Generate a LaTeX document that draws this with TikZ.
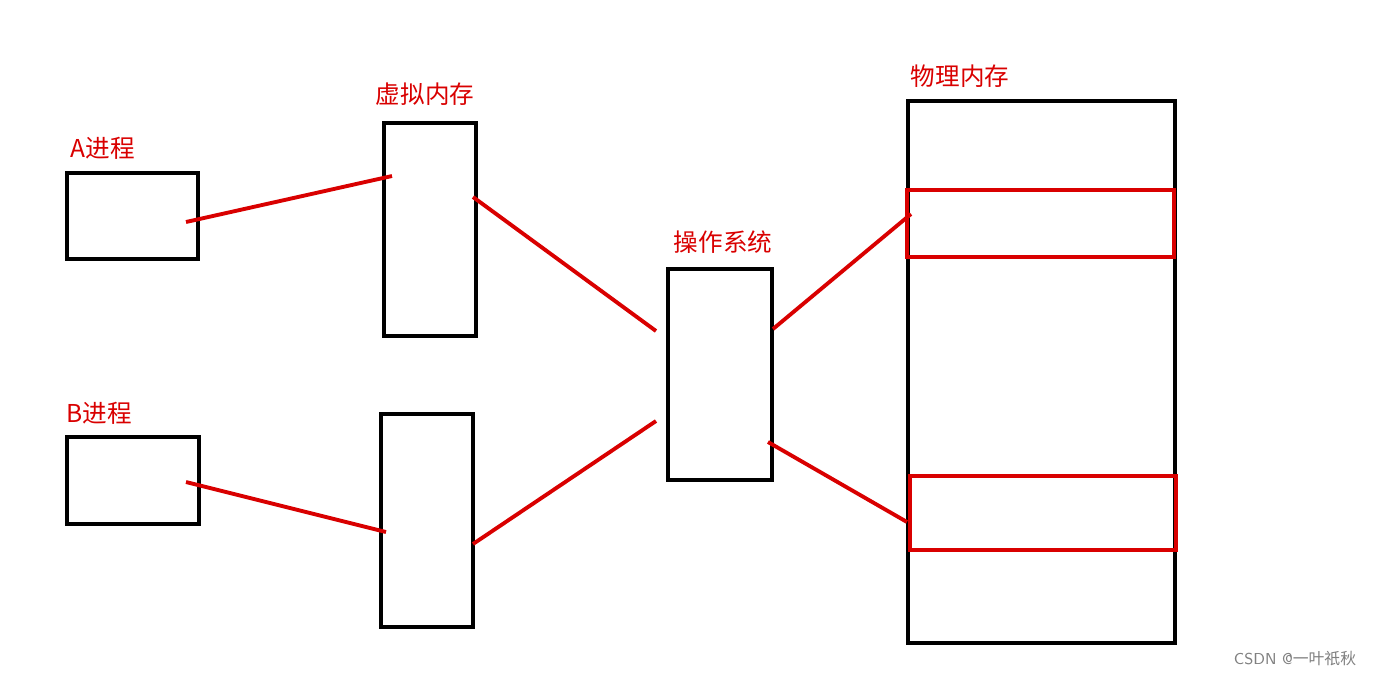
\documentclass[tikz,border=0pt]{standalone}
\usepackage{fontspec}
\newfontfamily\cjk{Noto Sans CJK SC}
\begin{document}
\begin{tikzpicture}[x=0.02cm,y=-0.02cm,
  box/.style={draw=black,line width=2.4pt},
  rbox/.style={draw=red!85!black,line width=2.4pt},
  link/.style={draw=red!85!black,line width=2.2pt},
  lbl/.style={text=red!85!black,font=\cjk\fontsize{14}{16}\selectfont,inner sep=0pt}]
\useasboundingbox (0,0) rectangle (1379,677);
\fill[white] (0,0) rectangle (1379,677);
\draw[box] (67,173) rectangle (198,259);
\draw[box] (67,437) rectangle (199,524);
\draw[box] (384,123) rectangle (476,336);
\draw[box] (381,414) rectangle (473,627);
\draw[box] (668,269) rectangle (772,480);
\draw[box] (908,101) rectangle (1175,643);
\draw[rbox] (907,190) rectangle (1174,257);
\draw[rbox] (910,476) rectangle (1176,550);
\node[lbl] (la) at (103,148) {A进程};
\node[lbl] (lb) at (99,413) {B进程};
\node[lbl] (lv) at (425,94) {虚拟内存};
\node[lbl] (lo) at (723,242) {操作系统};
\node[lbl] (lp) at (960,76) {物理内存};
\node[text=gray,font=\sffamily\fontsize{9}{10}\selectfont,inner sep=0pt] (wm) at (1295,659) {CSDN @{\cjk 一叶祇秋}};
\coordinate (a1) at (186,222); \coordinate (v1a) at (392,176);
\coordinate (v1b) at (473,197); \coordinate (o1) at (656,331);
\coordinate (b1) at (186,482); \coordinate (v2a) at (386,532);
\coordinate (v2b) at (473,544); \coordinate (o2) at (656,421);
\coordinate (o3) at (773,329); \coordinate (p1) at (911,214);
\coordinate (o4) at (768,442); \coordinate (p2) at (907,522);
\draw[link] (a1) -- (v1a);
\draw[link] (v1b) -- (o1);
\draw[link] (b1) -- (v2a);
\draw[link] (v2b) -- (o2);
\draw[link] (o3) -- (p1);
\draw[link] (o4) -- (p2);
\end{tikzpicture}
\end{document}
